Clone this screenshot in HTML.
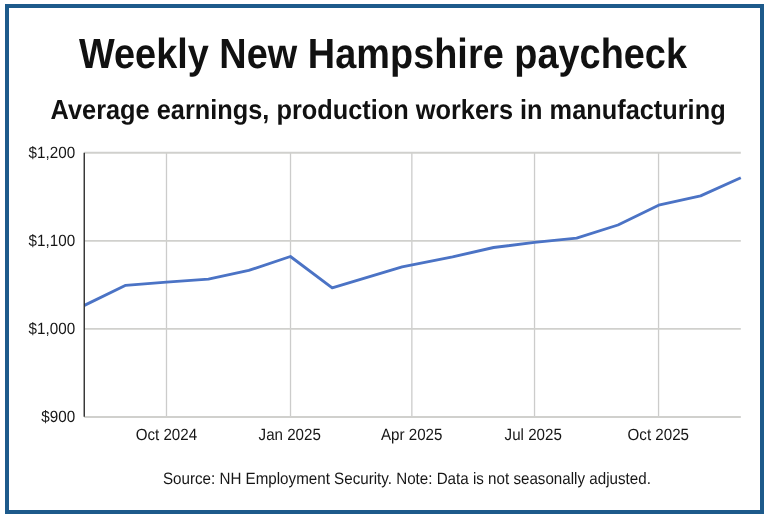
<!DOCTYPE html>
<html><head><meta charset="utf-8"><title>Weekly New Hampshire paycheck</title>
<style>
html,body{margin:0;padding:0;background:#fff;}
body{width:768px;height:519px;overflow:hidden;font-family:"Liberation Sans",sans-serif;}
svg{display:block;will-change:transform;font-family:"Liberation Sans",sans-serif;}
</style></head><body>
<svg width="768" height="519" viewBox="0 0 768 519">
<rect x="0" y="0" width="768" height="519" fill="#ffffff"/>
<rect x="7" y="6" width="755" height="506" fill="none" stroke="#1d5a8b" stroke-width="4"/>
<line x1="166.49" y1="152.75" x2="166.49" y2="417.6" stroke="#cccccb" stroke-width="1.3"/>
<line x1="290.52" y1="152.75" x2="290.52" y2="417.6" stroke="#cccccb" stroke-width="1.3"/>
<line x1="411.85" y1="152.75" x2="411.85" y2="417.6" stroke="#cccccb" stroke-width="1.3"/>
<line x1="534.53" y1="152.75" x2="534.53" y2="417.6" stroke="#cccccb" stroke-width="1.3"/>
<line x1="658.56" y1="152.75" x2="658.56" y2="417.6" stroke="#cccccb" stroke-width="1.3"/>
<line x1="84.25" y1="152.75" x2="740.8" y2="152.75" stroke="#d0d0cd" stroke-width="1.9"/>
<line x1="84.25" y1="240.83" x2="740.8" y2="240.83" stroke="#d0d0cd" stroke-width="1.9"/>
<line x1="84.25" y1="328.92" x2="740.8" y2="328.92" stroke="#d0d0cd" stroke-width="1.9"/>
<line x1="84.25" y1="417.00" x2="740.8" y2="417.00" stroke="#d0d0cd" stroke-width="1.9"/>
<polyline fill="none" stroke="#4b73c5" stroke-width="2.85" stroke-linejoin="round" points="84.4,305.4 125.7,285.3 166.5,282.2 208.4,279.1 248.8,270.4 290.4,256.5 332.2,287.9 402.1,266.8 452.6,256.9 493.6,247.5 534.5,242.4 576.6,238.2 618.0,225.0 658.6,205.2 700.6,195.9 740.8,177.7"/>
<line x1="84.25" y1="152.75" x2="84.25" y2="416.8" stroke="#2e2e2e" stroke-width="1.4"/>
<text transform="translate(78.9,67.8) skewX(0.05) scale(0.8962,1)" font-size="42.3" font-weight="bold" fill="#111111">Weekly New Hampshire paycheck</text>
<text transform="translate(50.6,119) skewX(0.05) scale(0.922,1)" font-size="27.5" font-weight="bold" fill="#111111">Average earnings, production workers in manufacturing</text>
<text transform="translate(75.2,158.10) skewX(0.05) scale(0.935,1)" font-size="16.3" fill="#161616" text-anchor="end">$1,200</text>
<text transform="translate(75.2,246.18) skewX(0.05) scale(0.935,1)" font-size="16.3" fill="#161616" text-anchor="end">$1,100</text>
<text transform="translate(75.2,334.27) skewX(0.05) scale(0.935,1)" font-size="16.3" fill="#161616" text-anchor="end">$1,000</text>
<text transform="translate(75.2,422.35) skewX(0.05) scale(0.935,1)" font-size="16.3" fill="#161616" text-anchor="end">$900</text>
<text transform="translate(166.39,440.3) skewX(0.05) scale(0.93,1)" font-size="16.3" fill="#161616" text-anchor="middle">Oct 2024</text>
<text transform="translate(289.72,440.3) skewX(0.05) scale(0.93,1)" font-size="16.3" fill="#161616" text-anchor="middle">Jan 2025</text>
<text transform="translate(411.70,440.3) skewX(0.05) scale(0.93,1)" font-size="16.3" fill="#161616" text-anchor="middle">Apr 2025</text>
<text transform="translate(533.23,440.3) skewX(0.05) scale(0.93,1)" font-size="16.3" fill="#161616" text-anchor="middle">Jul 2025</text>
<text transform="translate(658.31,440.3) skewX(0.05) scale(0.93,1)" font-size="16.3" fill="#161616" text-anchor="middle">Oct 2025</text>
<text transform="translate(406.9,484) skewX(0.05) scale(0.92,1)" font-size="16.5" fill="#161616" text-anchor="middle">Source: NH Employment Security. Note: Data is not seasonally adjusted.</text>
</svg></body></html>
